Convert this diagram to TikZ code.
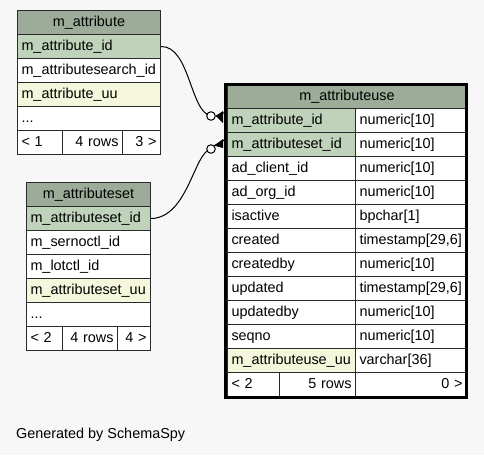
\documentclass[tikz,border=0pt]{standalone}
\usepackage{fontspec}
\setmainfont{Liberation Sans}
\definecolor{bg}{HTML}{F7F7F7}
\definecolor{hdr}{HTML}{9CAC98}
\definecolor{pk}{HTML}{BFD2BA}
\definecolor{uu}{HTML}{F5F7DC}
\definecolor{edge}{HTML}{2A2A2A}
\newcommand\tabfont{\fontsize{14.4}{16}\selectfont}
% name, x, y, inner text width (w-8), fill, align, text
\newcommand\tcell[7]{\node[cell, fill=#5, text width=#4pt, align=#6] (#1) at (#2,#3) {#7};}
\tikzset{
  cell/.style={draw=edge, line width=1pt, anchor=north west, minimum height=24pt,
    inner xsep=4pt, inner ysep=0pt, text height=10.5pt, text depth=3pt, font=\tabfont},
  conn/.style={draw=black, line width=1pt},
  ring/.style={circle, draw=black, fill=white, line width=1pt, minimum size=8.5pt, inner sep=0pt},
  caption/.style={anchor=west, inner sep=0pt, font=\tabfont}
}
\begin{document}
\begin{tikzpicture}[x=1pt,y=-1pt]
\fill[bg] (0,0) rectangle (484,455);
\useasboundingbox (0,0) rectangle (484,455);

% ---------- m_attribute ----------
\tcell{a0}{17}{10}{135}{hdr}{center}{m\_attribute}
\tcell{a1}{17}{34}{135}{pk}{left}{m\_attribute\_id}
\tcell{a2}{17}{58}{135}{white}{left}{m\_attributesearch\_id}
\tcell{a3}{17}{82}{135}{uu}{left}{m\_attribute\_uu}
\tcell{a4}{17}{106}{135}{white}{left}{...}
\tcell{a5}{17}{130}{37}{white}{left}{< 1}
\tcell{a6}{62}{130}{52}{white}{right}{4 rows}
\tcell{a7}{122}{130}{30}{white}{right}{3 >}

% ---------- m_attributeset ----------
\tcell{s0}{26}{182}{116}{hdr}{center}{m\_attributeset}
\tcell{s1}{26}{206}{116}{pk}{left}{m\_attributeset\_id}
\tcell{s2}{26}{230}{116}{white}{left}{m\_sernoctl\_id}
\tcell{s3}{26}{254}{116}{white}{left}{m\_lotctl\_id}
\tcell{s4}{26}{278}{116}{uu}{left}{m\_attributeset\_uu}
\tcell{s5}{26}{302}{116}{white}{left}{...}
\tcell{s6}{26}{326}{28}{white}{left}{< 2}
\tcell{s7}{62}{326}{47}{white}{right}{4 rows}
\tcell{s8}{117}{326}{25}{white}{right}{4 >}

% ---------- m_attributeuse ----------
\tcell{u0}{227}{84}{231}{hdr}{center}{m\_attributeuse}
\tcell{u1}{227}{108}{120}{pk}{left}{m\_attribute\_id}
\tcell{v1}{355}{108}{103}{white}{left}{numeric[10]}
\tcell{u2}{227}{132}{120}{pk}{left}{m\_attributeset\_id}
\tcell{v2}{355}{132}{103}{white}{left}{numeric[10]}
\tcell{u3}{227}{156}{120}{white}{left}{ad\_client\_id}
\tcell{v3}{355}{156}{103}{white}{left}{numeric[10]}
\tcell{u4}{227}{180}{120}{white}{left}{ad\_org\_id}
\tcell{v4}{355}{180}{103}{white}{left}{numeric[10]}
\tcell{u5}{227}{204}{120}{white}{left}{isactive}
\tcell{v5}{355}{204}{103}{white}{left}{bpchar[1]}
\tcell{u6}{227}{228}{120}{white}{left}{created}
\tcell{v6}{355}{228}{103}{white}{left}{timestamp[29,6]}
\tcell{u7}{227}{252}{120}{white}{left}{createdby}
\tcell{v7}{355}{252}{103}{white}{left}{numeric[10]}
\tcell{u8}{227}{276}{120}{white}{left}{updated}
\tcell{v8}{355}{276}{103}{white}{left}{timestamp[29,6]}
\tcell{u9}{227}{300}{120}{white}{left}{updatedby}
\tcell{v9}{355}{300}{103}{white}{left}{numeric[10]}
\tcell{u10}{227}{324}{120}{white}{left}{seqno}
\tcell{v10}{355}{324}{103}{white}{left}{numeric[10]}
\tcell{u11}{227}{348}{120}{uu}{left}{m\_attributeuse\_uu}
\tcell{v11}{355}{348}{103}{white}{left}{varchar[36]}
\tcell{u12}{227}{372}{44}{white}{left}{< 2}
\tcell{u13}{279}{372}{68}{white}{right}{5 rows}
\tcell{v12}{355}{372}{103}{white}{right}{0 >}
\draw[black, line width=3pt] (225.8,84.5) rectangle (466.3,397);

% ---------- connectors ----------
\coordinate (c1) at (211,116);
\coordinate (c2) at (211,149);
\draw[conn] (a1.east) .. controls (190,46) and (190,112) .. (c1);
\draw[conn] (s1.east) .. controls (188,218) and (194,152) .. (c2);
\node[ring] (o1) at (c1) {};
\node[ring] (o2) at (c2) {};
\fill[black] (o1.east) -- (223,111) -- (223,123) -- cycle;
\draw[conn] (o1.east) -- (226,112);
\fill[black] (o2.north east) -- (223,139) -- (223,148) -- cycle;
\draw[conn] (o2.north east) -- (226,139);

\node[caption] (gen) at (16,435) {Generated by SchemaSpy};
\end{tikzpicture}
\end{document}
